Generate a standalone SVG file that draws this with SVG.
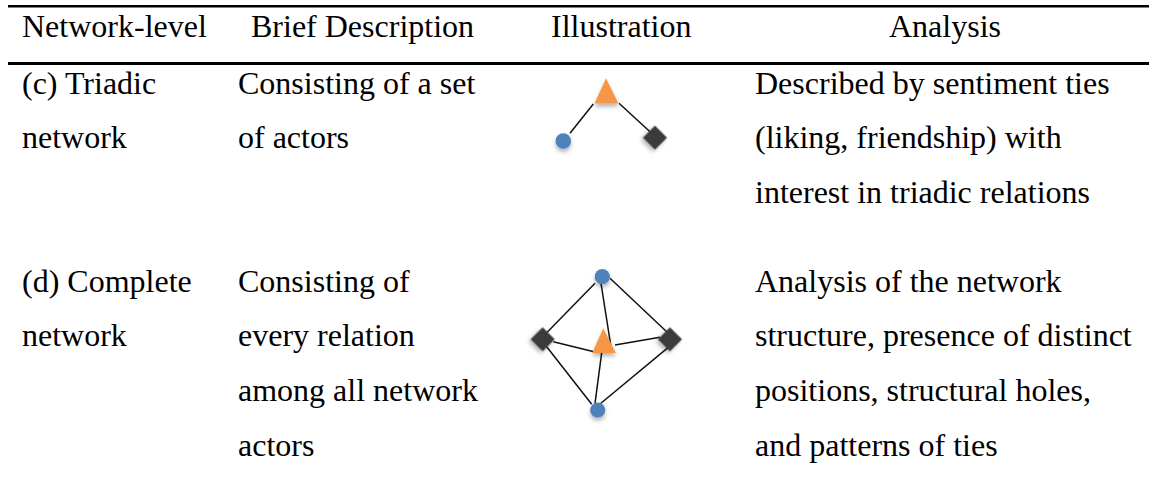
<svg xmlns="http://www.w3.org/2000/svg" width="1149" height="480" viewBox="0 0 1149 480">
<style>
text{font-family:"Liberation Serif","Times New Roman",serif;font-size:32px;fill:#000}
.rule{stroke:#000;fill:none}
.edge{stroke:#111;stroke-width:1.5;fill:none}
.blue{fill:#4F81BD}
.orange{fill:#F79646}
.dark{fill:#3B3B3B}
</style>
<defs>
<filter id="sh" x="-50%" y="-50%" width="200%" height="200%">
<feDropShadow dx="0" dy="3" stdDeviation="2" flood-color="#000" flood-opacity="0.3"/>
</filter>
</defs>
<g id="rules">
<line class="rule" x1="8" y1="6.2" x2="1149" y2="6.2" stroke-width="2.6"/>
<line class="rule" x1="8" y1="63.6" x2="1149" y2="63.6" stroke-width="3"/>
</g>
<g id="header">
<text x="22" y="37">Network-level</text>
<text x="251" y="37">Brief Description</text>
<text x="551" y="37">Illustration</text>
<text x="889" y="37">Analysis</text>
</g>
<g id="row-c">
<text x="22" y="94">(c) Triadic</text>
<text x="22" y="148">network</text>
<text x="238" y="94">Consisting of a set</text>
<text x="238" y="148">of actors</text>
<text x="755" y="94">Described by sentiment ties</text>
<text x="755" y="148">(liking, friendship) with</text>
<text x="755" y="203">interest in triadic relations</text>
</g>
<g id="row-d">
<text x="22" y="292">(d) Complete</text>
<text x="22" y="346">network</text>
<text x="238" y="292">Consisting of</text>
<text x="238" y="346">every relation</text>
<text x="238" y="401">among all network</text>
<text x="238" y="456">actors</text>
<text x="755" y="292">Analysis of the network</text>
<text x="755" y="346">structure, presence of distinct</text>
<text x="755" y="401">positions, structural holes,</text>
<text x="755" y="456">and patterns of ties</text>
</g>
<g id="connectors">
<line class="edge" x1="570" y1="133.3" x2="593.3" y2="104"/>
<line class="edge" x1="619" y1="103.3" x2="650" y2="131.7"/>
<line class="edge" x1="595" y1="283.3" x2="546.7" y2="332.7"/>
<line class="edge" x1="610" y1="278.3" x2="666.7" y2="331.7"/>
<line class="edge" x1="601" y1="283.3" x2="610.7" y2="345"/>
<line class="edge" x1="553.3" y1="341.7" x2="594" y2="351.7"/>
<line class="edge" x1="615" y1="345" x2="660" y2="337.3"/>
<line class="edge" x1="601.7" y1="352.7" x2="595" y2="403.3"/>
<line class="edge" x1="546.7" y1="346.7" x2="591.7" y2="404.3"/>
<line class="edge" x1="668.3" y1="347.3" x2="600" y2="404"/>
</g>
<g id="c-triangle"><polygon class="orange" filter="url(#sh)" points="606,78.3 594.5,103.5 618.5,103.5"/></g>
<g id="c-circle"><circle class="blue" filter="url(#sh)" cx="563.3" cy="141" r="7.8"/></g>
<g id="c-diamond"><rect class="dark" filter="url(#sh)" x="-8.5" y="-8.5" width="17" height="17" transform="translate(655 137.7) rotate(45)"/></g>
<g id="d-top-circle"><circle class="blue" filter="url(#sh)" cx="602.3" cy="276.7" r="7.6"/></g>
<g id="d-bottom-circle"><circle class="blue" filter="url(#sh)" cx="597.7" cy="410" r="7.6"/></g>
<g id="d-left-diamond"><rect class="dark" filter="url(#sh)" x="-8.5" y="-8.5" width="17" height="17" transform="translate(542.7 339.3) rotate(45)"/></g>
<g id="d-right-diamond"><rect class="dark" filter="url(#sh)" x="-8.5" y="-8.5" width="17" height="17" transform="translate(670 339.3) rotate(45)"/></g>
<g id="d-triangle"><polygon class="orange" filter="url(#sh)" points="603.3,328.3 592.2,352.9 615.8,352.9"/></g>
</svg>
